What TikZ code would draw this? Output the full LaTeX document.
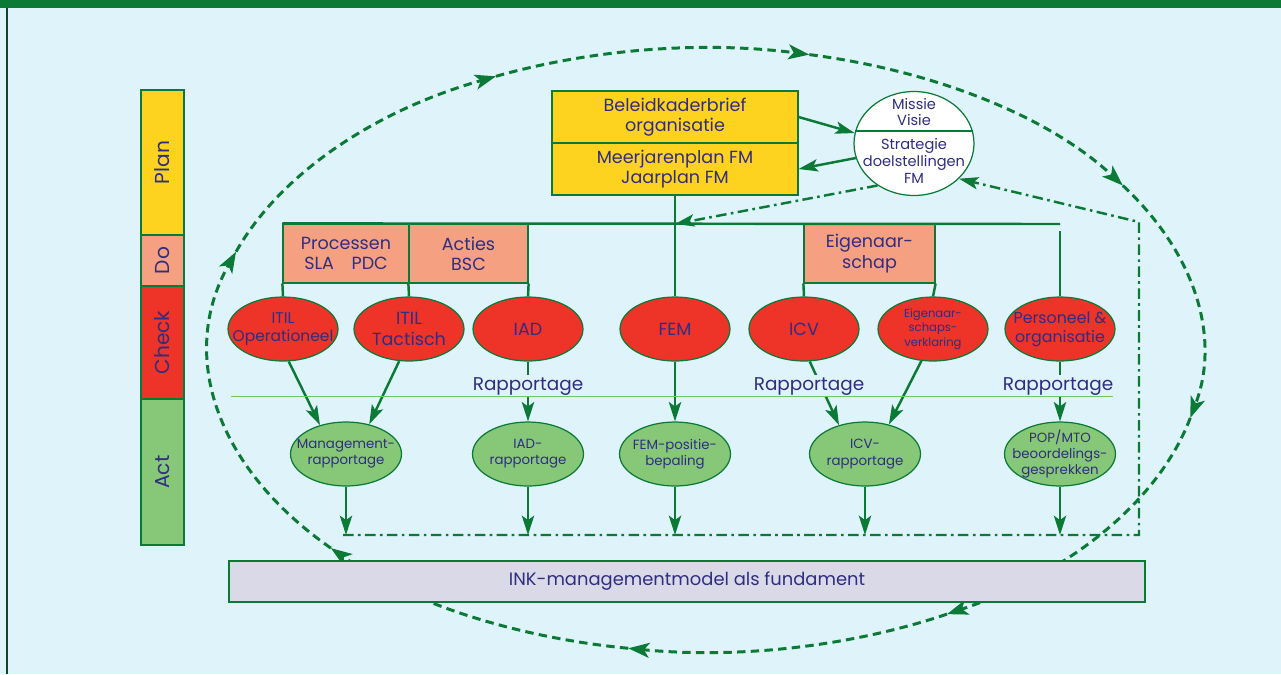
\documentclass[tikz,border=0pt]{standalone}
\usepackage{fontspec}
\setmainfont{Poppins}
\usetikzlibrary{arrows.meta,shapes.geometric}

\definecolor{bgblue}{RGB}{223,243,250}
\definecolor{darkgreen}{RGB}{11,122,54}
\definecolor{planyellow}{RGB}{253,211,31}
\definecolor{dosalmon}{RGB}{245,160,128}
\definecolor{checkred}{RGB}{238,51,40}
\definecolor{actgreen}{RGB}{134,200,120}
\definecolor{inklilac}{RGB}{217,217,232}
\definecolor{thingreen}{RGB}{112,200,100}
\definecolor{navy}{RGB}{48,45,130}

\tikzset{
  txt/.style={text=navy, align=center, font=\fontsize{10}{11.5}\selectfont},
  small/.style={font=\fontsize{7.6}{9.2}\selectfont},
  box/.style={draw=darkgreen, line width=0.7pt, inner sep=0pt, txt},
  phase/.style={box, rotate=90, minimum height=0.86cm, font=\fontsize{11.5}{12}\selectfont},
  oval/.style={ellipse, box, inner xsep=-10pt, inner ysep=-3pt, minimum height=1.28cm},
  redov/.style={oval, fill=checkred, minimum width=2.2cm},
  greenov/.style={oval, fill=actgreen, minimum width=2.22cm, small},
  link/.style={draw=darkgreen, line width=1.4pt},
  tip/.style={-{Stealth[length=11pt, width=7pt, inset=2.5pt]}},
  arr/.style={link, tip},
  dashdot/.style={link, dash pattern=on 6pt off 2.5pt on 1.5pt off 2.5pt},
  loopline/.style={draw=darkgreen, line width=1.7pt, dash pattern=on 4.8pt off 3pt, -{Stealth[length=12pt, width=8.5pt, inset=3pt]}},
  rap/.style={txt, fill=bgblue, inner sep=1pt, anchor=base, font=\fontsize{10.5}{12}\selectfont},
}

\begin{document}
\begin{tikzpicture}[x=0.02cm, y=-0.02cm]
\useasboundingbox (0,0) rectangle (1281,674);
\fill[bgblue] (0,0) rectangle (1281,674);
\fill[darkgreen] (0,0) rectangle (1281,8);
\draw[darkgreen!60!black, line width=0.6pt] (7,8) -- (7,674);

% PDCA strip
\node[phase, fill=planyellow, minimum width=2.9cm] (plan) at (162.5,162.5) {Plan};
\node[phase, fill=dosalmon, minimum width=1.02cm] (do) at (162.5,260.5) {Do};
\node[phase, fill=checkred, minimum width=2.26cm] (check) at (162.5,342.5) {Check};
\node[phase, fill=actgreen, minimum width=2.92cm] (act) at (162.5,472) {Act};

% big cycle
\foreach \s/\e in {13/61, 61/99, 99/139, 139/199, 199/245, 245/282, 282/327, 327/373}
  \draw[loopline, shift={(706,350)}] (\s:497 and 302) arc[start angle=\s, end angle=\e, x radius=497, y radius=302];

% plan boxes and mission
\node[box, fill=planyellow, minimum width=4.92cm, minimum height=1.04cm] (bel) at (675,117) {Beleidkaderbrief\\organisatie};
\node[box, fill=planyellow, minimum width=4.92cm, minimum height=1.04cm] (mjp) at (675,169) {Meerjarenplan FM\\Jaarplan FM};
\node[ellipse, box, fill=white, minimum width=2.4cm, minimum height=2.08cm] (mvs) at (914,143.5) {};
\draw[darkgreen, line width=0.7pt] (mvs.12) -- (mvs.168);
\node[txt, font=\fontsize{8.3}{9.6}\selectfont] (missie) at (914,112) {Missie\\Visie};
\node[txt, font=\fontsize{8.3}{9.6}\selectfont] (strat) at (914,161) {Strategie\\doelstellingen\\FM};
\draw[arr] (bel.east) -- (mvs.170);
\draw[arr] (mvs.194) -- (mjp.east);

% do boxes
\node[box, fill=dosalmon, minimum width=2.52cm, minimum height=1.18cm] (proc) at (346,253.5) {Processen\\SLA\quad PDC};
\node[box, fill=dosalmon, minimum width=2.38cm, minimum height=1.18cm] (acties) at (468.5,253.5) {Acties\\BSC};
\node[box, fill=dosalmon, minimum width=2.62cm, minimum height=1.18cm] (eig) at (869.5,253.5) {Eigenaar-\\schap};
\coordinate (barR) at (1060,224);
\coordinate (persTop) at (1060,231);
\coordinate (junc) at (675,224);

% check ellipses
\node[redov, font=\fontsize{8.8}{10.5}\selectfont] (itilop) at (283,329) {ITIL\\Operationeel};
\node[redov] (itiltac) at (409,329) {ITIL\\Tactisch};
\node[redov] (iad) at (528,329) {IAD};
\node[redov] (fem) at (675,329) {FEM};
\node[redov] (icv) at (804,329) {ICV};
\node[redov, font=\fontsize{6.6}{8.3}\selectfont] (eigv) at (933,329) {Eigenaar-\\schaps-\\verklaring};
\node[redov, font=\fontsize{9}{10.8}\selectfont] (pers) at (1060,329) {Personeel \&\\organisatie};

% act ellipses
\node[greenov] (mgmt) at (346,454) {Management-\\rapportage};
\node[greenov] (iadr) at (528,454) {IAD-\\rapportage};
\node[greenov] (femp) at (675,454) {FEM-positie-\\bepaling};
\node[greenov] (icvr) at (865,454) {ICV-\\rapportage};
\node[greenov] (pop) at (1060,454) {POP/MTO\\beoordelings-\\gesprekken};

% tree lines
\draw[link] (proc.north west) -- (barR);
\draw[link] (mjp.south) -- (fem.north);
\draw[link] (persTop) -- (pers.north);
\draw[link] (proc.south west) -- (itilop.north);
\draw[link] (acties.south west) -- (itiltac.north);
\draw[link] (acties.south east) -- (iad.north);
\draw[link] (eig.south west) -- (icv.north);
\draw[link] (eig.south east) -- (eigv.north);

% reports
\draw[arr] (itilop.-80) -- (mgmt.132);
\draw[arr] (itiltac.-107) -- (mgmt.52);
\draw[arr] (iad.south) -- (iadr.north);
\draw[arr] (fem.south) -- (femp.north);
\draw[arr] (icv.-80) -- (icvr.132);
\draw[arr] (eigv.-110) -- (icvr.51);
\draw[arr] (pers.south) -- (pop.north);
\node[rap] (rap1) at (528,390) {Rapportage};
\node[rap] (rap2) at (809,390) {Rapportage};
\node[rap] (rap3) at (1058,390) {Rapportage};
\draw[thingreen, line width=0.6pt] (231,396.5) -- (1113,396.5);

% feedback
\coordinate (ddL) at (343,535);
\coordinate (ddR) at (1139,535);
\coordinate (ddT) at (1139,222);
\draw[dashdot, tip] (ddL) -- (ddR) -- (ddT) -- (mvs.-38);
\draw[dashdot, tip] (mvs.229) -- (junc);
\foreach \n in {mgmt, iadr, femp, icvr, pop}
  \draw[arr] (\n.south) -- (\n.south |- ddL);

% foundation
\node[box, fill=inklilac, minimum width=18.32cm, minimum height=0.82cm, font=\fontsize{10.2}{12}\selectfont] (ink) at (687,581.5) {INK-managementmodel als fundament};
\end{tikzpicture}
\end{document}
